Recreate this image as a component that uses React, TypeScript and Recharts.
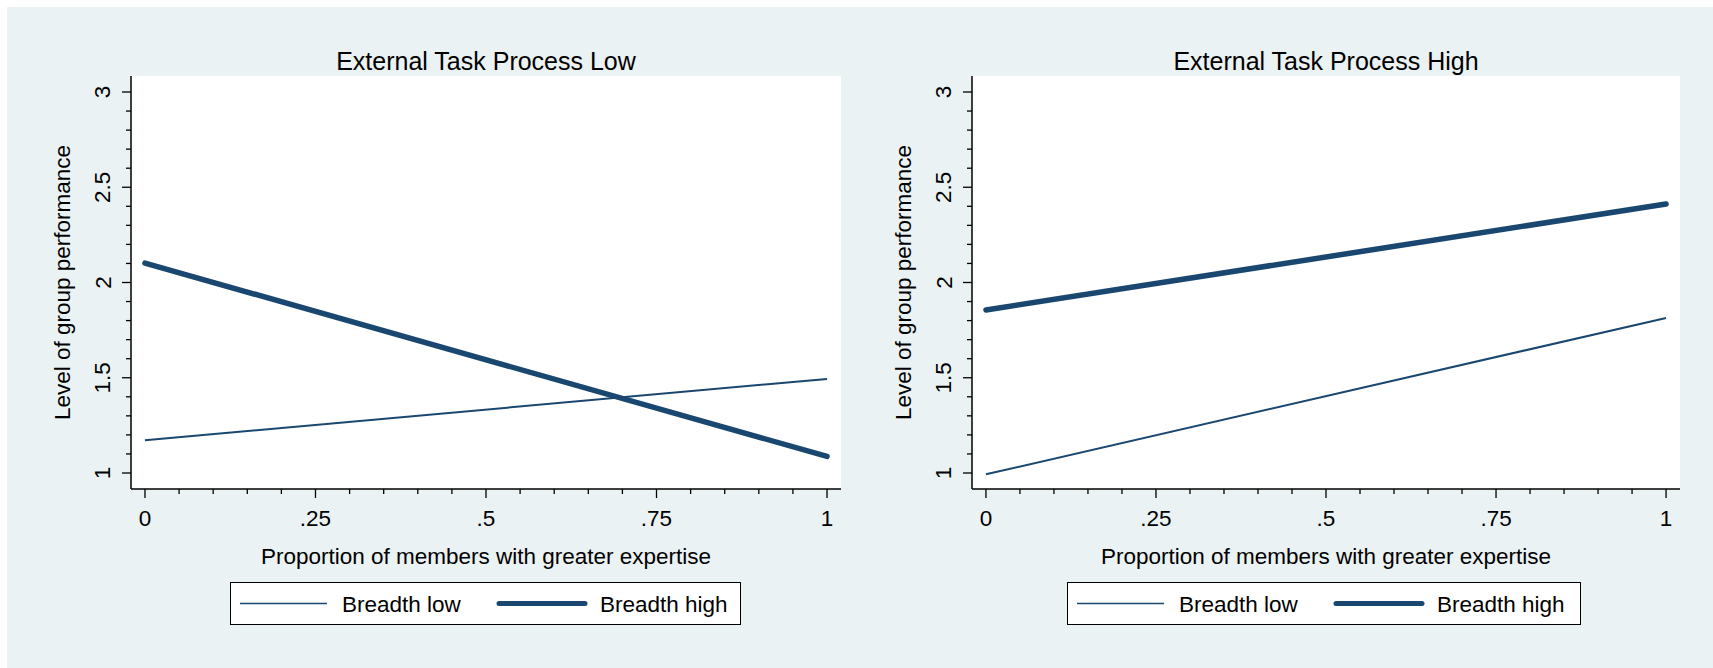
import React from "react";
import { LineChart, Line, XAxis, YAxis, CartesianGrid, Label } from "recharts";

// ---- data ----
const xValues = [0, 1];
const lowProcessBreadthLow = [1.172, 1.494];
const lowProcessBreadthHigh = [2.102, 1.087];
const highProcessBreadthLow = [0.993, 1.814];
const highProcessBreadthHigh = [1.856, 2.412];

const panelTitles = ["External Task Process Low", "External Task Process High"];
const seriesNames = ["Breadth low", "Breadth high"];
const xAxisTitle = "Proportion of members with greater expertise";
const yAxisTitle = "Level of group performance";

const xTicks = [0, 0.05, 0.1, 0.15, 0.2, 0.25, 0.3, 0.35, 0.4, 0.45, 0.5, 0.55, 0.6, 0.65, 0.7, 0.75, 0.8, 0.85, 0.9, 0.95, 1];
const xMajorTicks = [0, 0.25, 0.5, 0.75, 1];
const xTickLabels = ["0", ".25", ".5", ".75", "1"];
const yTicks = [1, 1.1, 1.2, 1.3, 1.4, 1.5, 1.6, 1.7, 1.8, 1.9, 2, 2.1, 2.2, 2.3, 2.4, 2.5, 2.6, 2.7, 2.8, 2.9, 3];
const yMajorTicks = [1, 1.5, 2, 2.5, 3];
const yTickLabels = ["1", "1.5", "2", "2.5", "3"];

const buildData = (low: number[], high: number[]) =>
  xValues.map((x, i) => ({ x, low: low[i], high: high[i] }));

const panels = [
  { title: panelTitles[0], data: buildData(lowProcessBreadthLow, lowProcessBreadthHigh) },
  { title: panelTitles[1], data: buildData(highProcessBreadthLow, highProcessBreadthHigh) },
];

// ---- style ----
const FONT = "'Liberation Sans', Arial, Helvetica, sans-serif";
const LINE_COLOR = "#1a476f";
const BG = "#eaf2f3";
const AX_FS = 22.5;

const findMajor = (v: number, majors: number[]) =>
  majors.findIndex((m) => Math.abs(m - v) < 1e-9);

const XTick = (props: any) => {
  const { x, y, payload } = props;
  const idx = findMajor(payload.value, xMajorTicks);
  const major = idx >= 0;
  return (
    <g>
      <line x1={x} x2={x} y1={y} y2={y + (major ? 9 : 5)} stroke="#000" strokeWidth={1.3} />
      {major && (
        <text x={x} y={y + 29} textAnchor="middle" dominantBaseline="central" fontSize={AX_FS} fontFamily={FONT} fill="#000">
          {xTickLabels[idx]}
        </text>
      )}
    </g>
  );
};

const YTick = (props: any) => {
  const { x, y, payload } = props;
  const idx = findMajor(payload.value, yMajorTicks);
  const major = idx >= 0;
  const lx = x - 28;
  return (
    <g>
      <line x1={x - (major ? 9 : 5)} x2={x} y1={y} y2={y} stroke="#000" strokeWidth={1.3} />
      {major && (
        <text
          x={lx}
          y={y}
          transform={`rotate(-90, ${lx}, ${y})`}
          textAnchor="middle"
          dominantBaseline="central"
          fontSize={AX_FS}
          fontFamily={FONT}
          fill="#000"
        >
          {yTickLabels[idx]}
        </text>
      )}
    </g>
  );
};

const YTitle = (props: any) => {
  const vb = props.viewBox || {};
  const x = vb.x + vb.width - 69;
  const y = vb.y + vb.height / 2;
  return (
    <text x={x} y={y} transform={`rotate(-90, ${x}, ${y})`} textAnchor="middle" dominantBaseline="central" fontSize={AX_FS} fontFamily={FONT} fill="#000">
      {yAxisTitle}
    </text>
  );
};

const XTitle = (props: any) => {
  const vb = props.viewBox || {};
  const x = vb.x + vb.width / 2;
  const y = vb.y + 67;
  return (
    <text x={x} y={y} textAnchor="middle" dominantBaseline="central" fontSize={AX_FS} fontFamily={FONT} fill="#000">
      {xAxisTitle}
    </text>
  );
};

const LegendBox = ({ left, width }: { left: number; width: number }) => (
  <div
    style={{
      position: "absolute",
      left,
      top: 582,
      width,
      height: 43,
      boxSizing: "border-box",
      border: "1px solid #000",
      background: "#fff",
    }}
  >
    <svg width={width - 2} height={41} style={{ position: "absolute", left: 0, top: 0 }}>
      <line x1={9} x2={96} y1={20.5} y2={20.5} stroke={LINE_COLOR} strokeWidth={1.5} />
      <line x1={268} x2={354} y1={20.5} y2={20.5} stroke={LINE_COLOR} strokeWidth={5} strokeLinecap="round" />
      <text x={111} y={21} dominantBaseline="central" fontSize={AX_FS} fontFamily={FONT} fill="#000">
        {seriesNames[0]}
      </text>
      <text x={369} y={21} dominantBaseline="central" fontSize={AX_FS} fontFamily={FONT} fill="#000">
        {seriesNames[1]}
      </text>
    </svg>
  </div>
);

const CH = 600;

const Panel = ({ panel, left, axisWidth, rightMargin }: any) => (
  <div style={{ position: "absolute", left, top: 0, width: 860, height: CH }}>
    <LineChart
      width={860}
      height={CH}
      data={panel.data}
      margin={{ top: 76, right: rightMargin, left: 0, bottom: 31 }}
    >
      <CartesianGrid horizontal={false} vertical={false} fill="#fff" stroke="none" />
      <XAxis
        type="number"
        dataKey="x"
        domain={[-0.0205, 1.0205]}
        ticks={xTicks}
        interval={0}
        tickSize={0}
        tickMargin={0}
        tickLine={false}
        tick={<XTick />}
        height={80}
        axisLine={{ stroke: "#000", strokeWidth: 1.5 }}
        allowDataOverflow
      >
        <Label content={<XTitle />} />
      </XAxis>
      <YAxis
        type="number"
        domain={[0.916, 3.084]}
        ticks={yTicks}
        interval={0}
        tickSize={0}
        tickMargin={0}
        tickLine={false}
        tick={<YTick />}
        width={axisWidth}
        axisLine={{ stroke: "#000", strokeWidth: 1.5 }}
        allowDataOverflow
      >
        <Label content={<YTitle />} />
      </YAxis>
      <Line
        type="linear"
        dataKey="low"
        name={seriesNames[0]}
        stroke={LINE_COLOR}
        strokeWidth={2}
        dot={false}
        activeDot={false}
        isAnimationActive={false}
      />
      <Line
        type="linear"
        dataKey="high"
        name={seriesNames[1]}
        stroke={LINE_COLOR}
        strokeWidth={5.5}
        strokeLinecap="round"
        dot={false}
        activeDot={false}
        isAnimationActive={false}
      />
    </LineChart>
  </div>
);

const Title = ({ text, center }: { text: string; center: number }) => (
  <div
    style={{
      position: "absolute",
      left: center - 250,
      width: 500,
      top: 61 - 15,
      height: 30,
      lineHeight: "30px",
      textAlign: "center",
      fontFamily: FONT,
      fontSize: 25,
      color: "#000",
      whiteSpace: "nowrap",
    }}
  >
    {text}
  </div>
);

export default function App() {
  return (
    <div style={{ position: "absolute", left: 0, top: 0, width: 1713, height: 668, background: "#fff", overflow: "hidden" }}>
      <div style={{ position: "absolute", left: 7, top: 7, width: 1706, height: 661, background: BG }} />
      <Panel panel={panels[0]} left={0} axisWidth={131} rightMargin={19} />
      <Panel panel={panels[1]} left={840} axisWidth={132} rightMargin={20} />
      <Title text={panels[0].title} center={486} />
      <Title text={panels[1].title} center={1326} />
      <LegendBox left={230} width={511} />
      <LegendBox left={1067} width={514} />
    </div>
  );
}
